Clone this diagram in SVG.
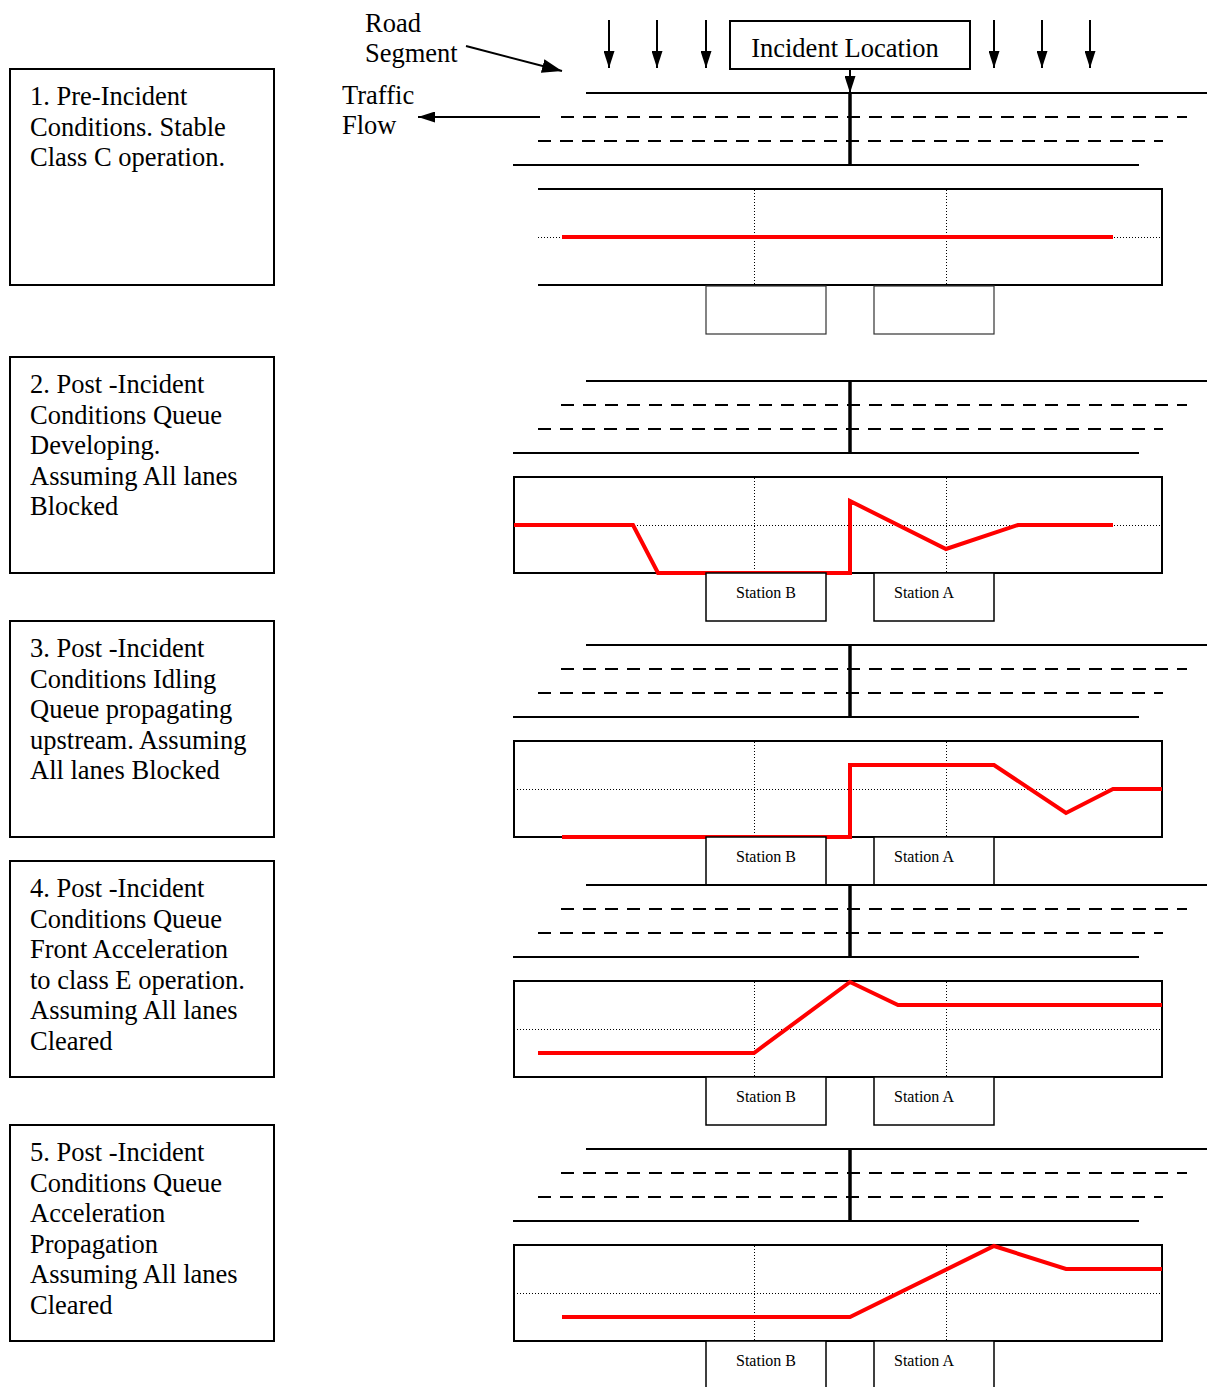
<svg xmlns="http://www.w3.org/2000/svg" width="1207" height="1387" viewBox="0 0 1207 1387">
<style>
  .bg{fill:#fff}
  .txt{font-family:"Liberation Serif","Times New Roman",serif;font-size:26.5px;fill:#000}
  .st{font-family:"Liberation Serif","Times New Roman",serif;font-size:16px;fill:#000}
  .box{fill:#fff;stroke:#000;stroke-width:2}
  .solid{stroke:#000;stroke-width:2;fill:none}
  .dash{stroke:#000;stroke-width:2;stroke-dasharray:13 9;fill:none}
  .inc{stroke:#000;stroke-width:3.5;fill:none}
  .chart{fill:none;stroke:#000;stroke-width:2}
  .dot{stroke:#000;stroke-width:1;stroke-dasharray:1 2;fill:none}
  .red{stroke:#ff0000;stroke-width:4;fill:none;stroke-linejoin:miter}
  .stbox{fill:#fff;stroke:#000;stroke-width:1.5}
  .stbox0{fill:#fff;stroke:#333;stroke-width:1.2}
  .arr{stroke:#000;stroke-width:2;fill:none}
</style>
<defs>
  <marker id="ah" markerWidth="17" markerHeight="11" refX="17" refY="5.5" orient="auto" markerUnits="userSpaceOnUse">
    <path d="M0,0 L17,5.5 L0,11 z" fill="#000"/>
  </marker>
  <marker id="ahBig" markerWidth="20" markerHeight="14" refX="20" refY="7" orient="auto" markerUnits="userSpaceOnUse">
    <path d="M0,0 L20,7 L0,14 z" fill="#000"/>
  </marker>
</defs>
<rect class="bg" x="0" y="0" width="1207" height="1387"/>

<!-- Header labels -->
<g id="road-segment-label">
  <text class="txt" x="365" y="32">Road</text>
  <text class="txt" x="365" y="62">Segment</text>
</g>
<g id="traffic-flow-label">
  <text class="txt" x="342" y="104">Traffic</text>
  <text class="txt" x="342" y="134">Flow</text>
</g>
<g id="incident-location">
  <rect class="box" x="730" y="21" width="240" height="48"/>
  <text class="txt" x="845" y="57" text-anchor="middle">Incident Location</text>
</g>

<!-- Connectors / arrows -->
<g id="connectors">
  <line class="arr" x1="466" y1="46" x2="562" y2="71" marker-end="url(#ahBig)"/>
  <line class="arr" x1="540" y1="117" x2="418" y2="117" marker-end="url(#ah)"/>
  <line class="arr" x1="609" y1="20" x2="609" y2="68" marker-end="url(#ah)"/>
  <line class="arr" x1="657" y1="20" x2="657" y2="68" marker-end="url(#ah)"/>
  <line class="arr" x1="706" y1="20" x2="706" y2="68" marker-end="url(#ah)"/>
  <line class="arr" x1="994" y1="20" x2="994" y2="68" marker-end="url(#ah)"/>
  <line class="arr" x1="1042" y1="20" x2="1042" y2="68" marker-end="url(#ah)"/>
  <line class="arr" x1="1090" y1="20" x2="1090" y2="68" marker-end="url(#ah)"/>
  <line class="arr" x1="850" y1="69" x2="850" y2="93" marker-end="url(#ah)"/>
</g>

<!-- Left description boxes -->
<g id="desc-1">
  <rect class="box" x="10" y="69" width="264" height="216"/>
  <text class="txt" x="30" y="105">1. Pre-Incident</text>
  <text class="txt" x="30" y="135.6">Conditions. Stable</text>
  <text class="txt" x="30" y="166.2">Class C operation.</text>
</g>
<g id="desc-2">
  <rect class="box" x="10" y="357" width="264" height="216"/>
  <text class="txt" x="30" y="393">2. Post -Incident</text>
  <text class="txt" x="30" y="423.6">Conditions Queue</text>
  <text class="txt" x="30" y="454.2">Developing.</text>
  <text class="txt" x="30" y="484.8">Assuming All lanes</text>
  <text class="txt" x="30" y="515.4">Blocked</text>
</g>
<g id="desc-3">
  <rect class="box" x="10" y="621" width="264" height="216"/>
  <text class="txt" x="30" y="657">3. Post -Incident</text>
  <text class="txt" x="30" y="687.6">Conditions Idling</text>
  <text class="txt" x="30" y="718.2">Queue propagating</text>
  <text class="txt" x="30" y="748.8">upstream. Assuming</text>
  <text class="txt" x="30" y="779.4">All lanes Blocked</text>
</g>
<g id="desc-4">
  <rect class="box" x="10" y="861" width="264" height="216"/>
  <text class="txt" x="30" y="897">4. Post -Incident</text>
  <text class="txt" x="30" y="927.6">Conditions Queue</text>
  <text class="txt" x="30" y="958.2">Front Acceleration</text>
  <text class="txt" x="30" y="988.8">to class E operation.</text>
  <text class="txt" x="30" y="1019.4">Assuming All lanes</text>
  <text class="txt" x="30" y="1050">Cleared</text>
</g>
<g id="desc-5">
  <rect class="box" x="10" y="1125" width="264" height="216"/>
  <text class="txt" x="30" y="1161">5. Post -Incident</text>
  <text class="txt" x="30" y="1191.6">Conditions Queue</text>
  <text class="txt" x="30" y="1222.2">Acceleration</text>
  <text class="txt" x="30" y="1252.8">Propagation</text>
  <text class="txt" x="30" y="1283.4">Assuming All lanes</text>
  <text class="txt" x="30" y="1314">Cleared</text>
</g>

<!-- Panel 1 -->
<g id="road-1">
  <line class="solid" x1="586" y1="93" x2="1207" y2="93"/>
  <line class="dash" x1="561" y1="117" x2="1187" y2="117"/>
  <line class="dash" x1="538" y1="141" x2="1163" y2="141"/>
  <line class="solid" x1="513" y1="165" x2="1139" y2="165"/>
  <line class="inc" x1="850" y1="93" x2="850" y2="165"/>
</g>
<g id="chart-1">
  <polyline class="chart" points="538,189 1162,189 1162,285 538,285" stroke-width="2.5"/>
  <line class="dot" x1="538" y1="237.5" x2="1160" y2="237.5"/>
  <line class="dot" x1="754.5" y1="190" x2="754.5" y2="284"/>
  <line class="dot" x1="946.5" y1="190" x2="946.5" y2="284"/>
  <polyline class="red" points="562,237 1113,237"/>
</g>
<g id="stations-1">
  <rect class="stbox0" x="706" y="286" width="120" height="48"/>
  <rect class="stbox0" x="874" y="286" width="120" height="48"/>
</g>

<!-- Panel 2 -->
<g id="road-2">
  <line class="solid" x1="586" y1="381" x2="1207" y2="381"/>
  <line class="dash" x1="561" y1="405" x2="1187" y2="405"/>
  <line class="dash" x1="538" y1="429" x2="1163" y2="429"/>
  <line class="solid" x1="513" y1="453" x2="1139" y2="453"/>
  <line class="inc" x1="850" y1="381" x2="850" y2="453"/>
</g>
<g id="chart-2">
  <rect class="chart" x="514" y="477" width="648" height="96"/>
  <line class="dot" x1="517" y1="525.5" x2="1160" y2="525.5"/>
  <line class="dot" x1="754.5" y1="478" x2="754.5" y2="572"/>
  <line class="dot" x1="946.5" y1="478" x2="946.5" y2="572"/>
  <polyline class="red" points="514,525 633,525 658,573 850,573 850,501 946,549 1018,525 1113,525"/>
</g>
<g id="stations-2">
  <rect class="stbox" x="706" y="573" width="120" height="48"/>
  <rect class="stbox" x="874" y="573" width="120" height="48"/>
  <text class="st" x="766" y="598" text-anchor="middle">Station B</text>
  <text class="st" x="894" y="598">Station A</text>
</g>

<!-- Panel 3 -->
<g id="road-3">
  <line class="solid" x1="586" y1="645" x2="1207" y2="645"/>
  <line class="dash" x1="561" y1="669" x2="1187" y2="669"/>
  <line class="dash" x1="538" y1="693" x2="1163" y2="693"/>
  <line class="solid" x1="513" y1="717" x2="1139" y2="717"/>
  <line class="inc" x1="850" y1="645" x2="850" y2="717"/>
</g>
<g id="chart-3">
  <rect class="chart" x="514" y="741" width="648" height="96"/>
  <line class="dot" x1="517" y1="789.5" x2="1160" y2="789.5"/>
  <line class="dot" x1="754.5" y1="742" x2="754.5" y2="836"/>
  <line class="dot" x1="946.5" y1="742" x2="946.5" y2="836"/>
  <polyline class="red" points="562,837 850,837 850,765 994,765 1066,813 1113,789 1162,789"/>
</g>
<g id="stations-3">
  <rect class="stbox" x="706" y="837" width="120" height="48"/>
  <rect class="stbox" x="874" y="837" width="120" height="48"/>
  <text class="st" x="766" y="862" text-anchor="middle">Station B</text>
  <text class="st" x="894" y="862">Station A</text>
</g>

<!-- Panel 4 -->
<g id="road-4">
  <line class="solid" x1="586" y1="885" x2="1207" y2="885"/>
  <line class="dash" x1="561" y1="909" x2="1187" y2="909"/>
  <line class="dash" x1="538" y1="933" x2="1163" y2="933"/>
  <line class="solid" x1="513" y1="957" x2="1139" y2="957"/>
  <line class="inc" x1="850" y1="885" x2="850" y2="957"/>
</g>
<g id="chart-4">
  <rect class="chart" x="514" y="981" width="648" height="96"/>
  <line class="dot" x1="517" y1="1029.5" x2="1160" y2="1029.5"/>
  <line class="dot" x1="754.5" y1="982" x2="754.5" y2="1076"/>
  <line class="dot" x1="946.5" y1="982" x2="946.5" y2="1076"/>
  <polyline class="red" points="538,1053 754,1053 850,982 898,1005 1162,1005"/>
</g>
<g id="stations-4">
  <rect class="stbox" x="706" y="1077" width="120" height="48"/>
  <rect class="stbox" x="874" y="1077" width="120" height="48"/>
  <text class="st" x="766" y="1102" text-anchor="middle">Station B</text>
  <text class="st" x="894" y="1102">Station A</text>
</g>

<!-- Panel 5 -->
<g id="road-5">
  <line class="solid" x1="586" y1="1149" x2="1207" y2="1149"/>
  <line class="dash" x1="561" y1="1173" x2="1187" y2="1173"/>
  <line class="dash" x1="538" y1="1197" x2="1163" y2="1197"/>
  <line class="solid" x1="513" y1="1221" x2="1139" y2="1221"/>
  <line class="inc" x1="850" y1="1149" x2="850" y2="1221"/>
</g>
<g id="chart-5">
  <rect class="chart" x="514" y="1245" width="648" height="96"/>
  <line class="dot" x1="517" y1="1293.5" x2="1160" y2="1293.5"/>
  <line class="dot" x1="754.5" y1="1246" x2="754.5" y2="1340"/>
  <line class="dot" x1="946.5" y1="1246" x2="946.5" y2="1340"/>
  <polyline class="red" points="562,1317 850,1317 994,1246 1066,1269 1162,1269"/>
</g>
<g id="stations-5">
  <rect class="stbox" x="706" y="1341" width="120" height="60"/>
  <rect class="stbox" x="874" y="1341" width="120" height="60"/>
  <text class="st" x="766" y="1366" text-anchor="middle">Station B</text>
  <text class="st" x="894" y="1366">Station A</text>
</g>
</svg>
